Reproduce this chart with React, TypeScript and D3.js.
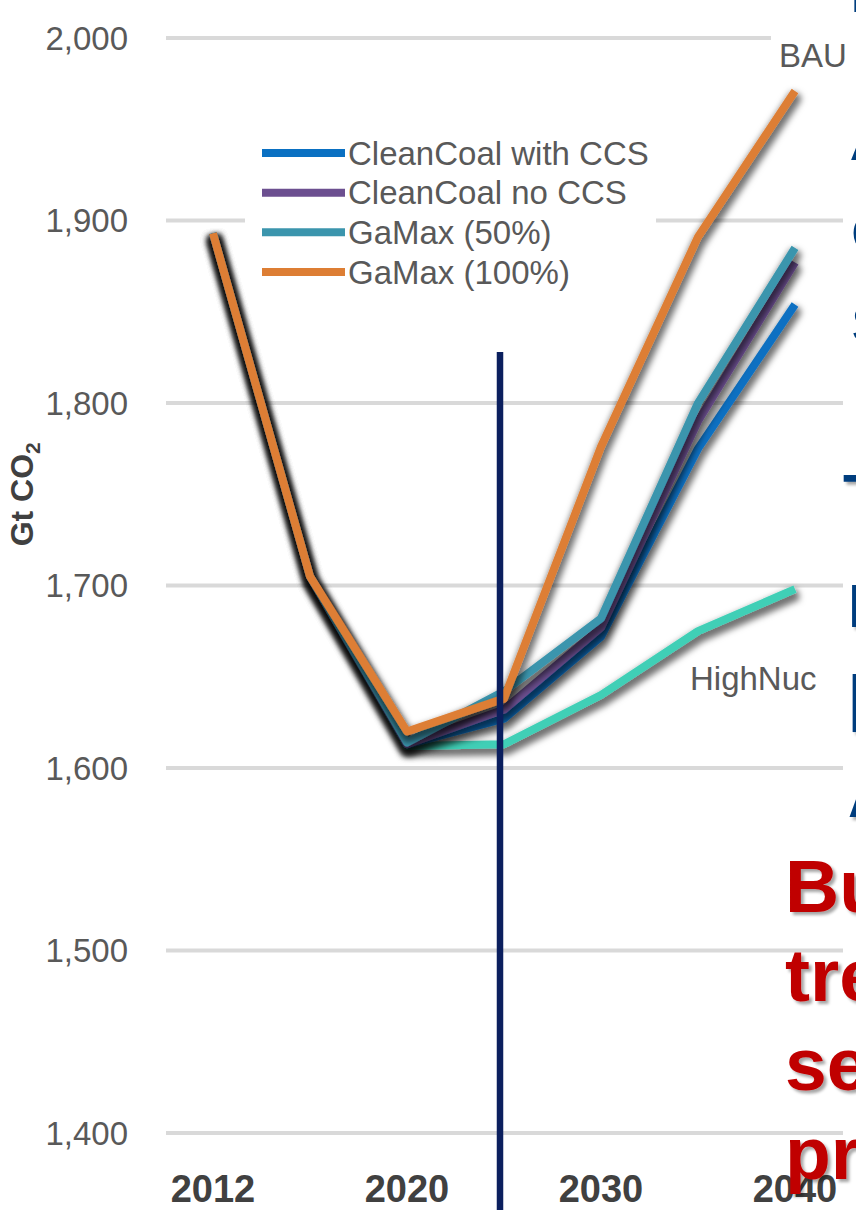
import React, { useEffect } from "react";
import * as d3 from "d3";

// emissions chart (cut out of a slide), cumulative Gt CO2 by scenario
const years = ["2012", "2015", "2020", "2025", "2030", "2035", "2040"];
const yTicks = [1400, 1500, 1600, 1700, 1800, 1900, 2000];

const highNuc = [1893, 1705, 1612, 1613, 1640, 1675, 1698];
const cleanCoalCCS = [1893, 1705, 1613, 1627, 1672, 1775, 1854];
const cleanCoalNoCCS = [1893, 1705, 1613, 1632, 1677, 1790, 1877];
const gaMax50 = [1893, 1705, 1614, 1642, 1682, 1800, 1885];
const gaMax100 = [1893, 1705, 1620, 1638, 1776, 1891, 1971];

const seriesNames = ["HighNuc", "CleanCoal with CCS", "CleanCoal no CCS", "GaMax (50%)", "GaMax (100%)"];
const seriesValues = [highNuc, cleanCoalCCS, cleanCoalNoCCS, gaMax50, gaMax100];
const seriesColors = ["#3fcfb6", "#0a70c2", "#6c4f90", "#3b95ad", "#dd7e34"];
const legendNames = ["CleanCoal with CCS", "CleanCoal no CCS", "GaMax (50%)", "GaMax (100%)"];

const navyLines = ["l", "A", "C", "S"];
const navyBold = ["T", "I", "|", "A"];
const redLines = ["But the", "trend is", "seen in", "projections"];

const W = 856;
const H = 1210;
const FONT = "'Liberation Sans', Arial, sans-serif";

export default function App() {
  useEffect(() => {
    document.body.style.margin = "0";
  }, []);

  const x = d3.scalePoint().domain(years).range([213, 795]);
  const y = d3.scaleLinear().domain([1400, 2000]).range([1133, 38]);
  const fmt = d3.format(",");

  const line = d3
    .line<number>()
    .x((_, i) => x(years[i]) as number)
    .y((d) => y(d));

  const legendX = 262;
  const legendY = d3.scaleLinear().domain([0, 3]).range([153, 272]);

  return (
    <svg width={W} height={H} style={{ position: "absolute", left: 0, top: 0, background: "#fff" }}>
      <defs>
        {/* wide soft shadow under each series, like the office chart effect */}
        <filter id="shadow" filterUnits="userSpaceOnUse" x={0} y={0} width={W} height={H}>
          <feMorphology in="SourceAlpha" operator="dilate" radius={2} result="fat" />
          <feGaussianBlur in="fat" stdDeviation={3} result="blur" />
          <feOffset in="blur" dx={1} dy={5} result="off" />
          <feFlood floodColor="#000" floodOpacity={0.55} />
          <feComposite in2="off" operator="in" result="sh" />
          <feMerge>
            <feMergeNode in="sh" />
            <feMergeNode in="SourceGraphic" />
          </feMerge>
        </filter>
        <filter id="txtShadow" filterUnits="userSpaceOnUse" x={0} y={0} width={W} height={H}>
          <feDropShadow dx={3} dy={3} stdDeviation={1.5} floodColor="#000" floodOpacity={0.35} />
        </filter>
      </defs>

      {/* gridlines */}
      {yTicks.map((t) => (
        <line key={t} x1={166} x2={843} y1={y(t)} y2={y(t)} stroke="#d9d9d9" strokeWidth={4} />
      ))}

      {/* y tick labels */}
      {yTicks.map((t) => (
        <text
          key={"l" + t}
          x={128}
          y={y(t)}
          dy="0.35em"
          textAnchor="end"
          fontFamily={FONT}
          fontSize={33}
          fill="#595959"
        >
          {fmt(t)}
        </text>
      ))}

      {/* y axis title */}
      <text
        transform={`translate(33, ${y(1750)}) rotate(-90)`}
        textAnchor="middle"
        fontFamily={FONT}
        fontSize={32}
        fontWeight="bold"
        fill="#404040"
      >
        Gt CO<tspan fontSize={21} dy={7}>2</tspan>
      </text>

      {/* x labels */}
      {years.map((yr, i) =>
        i % 2 === 0 ? (
          <text
            key={yr}
            x={x(yr)}
            y={1202}
            textAnchor="middle"
            fontFamily={FONT}
            fontSize={38}
            fontWeight="bold"
            fill="#404040"
          >
            {yr}
          </text>
        ) : null
      )}

      {/* series */}
      {seriesValues.map((vals, i) => (
        <path
          key={seriesNames[i]}
          d={line(vals) || ""}
          fill="none"
          stroke={seriesColors[i]}
          strokeWidth={8}
          strokeLinejoin="round"
          filter="url(#shadow)"
        />
      ))}

      {/* legend */}
      <rect x={245} y={130} width={411} height={160} fill="#fff" />
      {legendNames.map((name, i) => {
        const c = seriesColors[seriesNames.indexOf(name)];
        const ly = legendY(i);
        return (
          <g key={name}>
            <line x1={legendX} x2={legendX + 83} y1={ly} y2={ly} stroke={c} strokeWidth={8} />
            <text x={348} y={ly} dy="0.35em" fontFamily={FONT} fontSize={33} fill="#595959">
              {name}
            </text>
          </g>
        );
      })}

      {/* series labels */}
      <rect x={771} y={36} width={75} height={36} fill="#fff" />
      <text x={779} y={67} fontFamily={FONT} fontSize={33} fill="#595959">
        BAU
      </text>
      <text x={690} y={690} fontFamily={FONT} fontSize={33} fill="#595959">
        HighNuc
      </text>

      {/* divider */}
      <line x1={500} x2={500} y1={352} y2={H} stroke="#0b1f5e" strokeWidth={6.5} />

      {/* slide text cut off at the right edge */}
      {navyLines.map((s, i) => (
        <text key={"n" + i} x={851} y={12 + (i === 0 ? 0 : 148 + (i - 1) * 91)} fontFamily={FONT} fontSize={50} fill="#003e7e">
          {s}
        </text>
      ))}
      {navyBold.map((s, i) => (
        <text
          key={"b" + i}
          x={i === 0 ? 843 : 848}
          y={[517, 627, 718, 817][i]}
          fontFamily={FONT}
          fontSize={61}
          fontWeight="bold"
          fill="#003e7e"
          filter="url(#txtShadow)"
        >
          {s}
        </text>
      ))}
      {redLines.map((s, i) => (
        <text
          key={"r" + i}
          x={785}
          y={912 + i * 89}
          fontFamily={FONT}
          fontSize={75}
          fontWeight="bold"
          fill="#c00000"
          filter="url(#txtShadow)"
        >
          {s}
        </text>
      ))}
    </svg>
  );
}
